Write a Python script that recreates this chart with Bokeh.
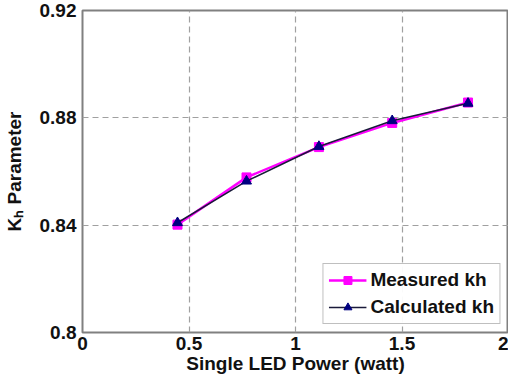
from bokeh.plotting import figure
from bokeh.models import FixedTicker, CustomJSTickFormatter, Legend, LegendItem, Range1d
from bokeh.embed import file_html
from bokeh.resources import INLINE

power = [0.446, 0.77, 1.11, 1.454, 1.81]
measured_kh = [0.8402, 0.8578, 0.8691, 0.8781, 0.8857]
calculated_kh = [0.8409, 0.8564, 0.8693, 0.8789, 0.8854]
x_ticks = [0, 0.5, 1, 1.5, 2]
y_ticks = [0.8, 0.84, 0.88, 0.92]

FONT = "Liberation Sans"

p = figure(width=508, height=376, output_backend="svg", toolbar_location=None,
           x_range=Range1d(0, 2), y_range=Range1d(0.8, 0.92),
           min_border_left=78, min_border_right=0, min_border_top=10, min_border_bottom=40)
p.background_fill_color = "white"
p.border_fill_color = "white"
p.outline_line_color = "#808080"
p.outline_line_width = 2

for ax in (p.xaxis[0], p.yaxis[0]):
    ax.axis_line_color = None
    ax.major_tick_line_color = None
    ax.minor_tick_line_color = None
    ax.major_tick_in = 0
    ax.major_tick_out = 0
    ax.minor_tick_in = 0
    ax.minor_tick_out = 0
    ax.major_label_text_font = FONT
    ax.major_label_text_font_style = "bold"
    ax.major_label_text_font_size = "19px"
    ax.major_label_text_color = "#111111"
    ax.axis_label_text_font = FONT
    ax.axis_label_text_font_style = "bold"
    ax.axis_label_text_font_size = "19px"
    ax.axis_label_text_color = "#111111"

fmt = CustomJSTickFormatter(code="return tick.toFixed(2).replace(/0+$/,'').replace(/\\.$/,'');")
p.xaxis[0].ticker = FixedTicker(ticks=x_ticks)
p.yaxis[0].ticker = FixedTicker(ticks=y_ticks)
p.xaxis[0].formatter = fmt
p.yaxis[0].formatter = fmt
p.xaxis[0].axis_label = "Single LED Power (watt)"
p.yaxis[0].axis_label = "K\u2095 Parameter"
p.xaxis[0].major_label_standoff = 4
p.yaxis[0].major_label_standoff = 6
p.xaxis[0].axis_label_standoff = 0
p.yaxis[0].axis_label_standoff = 12

p.xgrid.grid_line_color = "#a0a0a0"
p.ygrid.grid_line_color = "#a0a0a0"
p.xgrid.grid_line_dash = "6 4"
p.ygrid.grid_line_dash = "6 4"
p.xgrid.grid_line_width = 1.2
p.ygrid.grid_line_width = 1.2

ml = p.line(power, measured_kh, line_color="#ff00ff", line_width=2.5)
ms = p.scatter(power, measured_kh, marker="square", size=9, fill_color="#ff00ff", line_color="#ff00ff")
cl = p.line(power, calculated_kh, line_color="#1a1a3a", line_width=1.5)
cs = p.scatter(power, calculated_kh, marker="triangle", size=10, fill_color="#000080", line_color="#000080")

legend = Legend(items=[LegendItem(label="Measured kh", renderers=[ml, ms]),
                       LegendItem(label="Calculated kh", renderers=[cl, cs])],
                location="bottom_right")
legend.label_text_font = FONT
legend.label_text_font_style = "bold"
legend.label_text_font_size = "19px"
legend.label_text_color = "#111111"
legend.border_line_color = "#808080"
legend.border_line_width = 1
legend.glyph_width = 38
legend.glyph_height = 20
legend.label_height = 20
legend.margin = 8
legend.padding = 5
legend.spacing = 5
legend.label_standoff = 4
p.add_layout(legend, "center")

open("out.html", "w").write(file_html(p, INLINE))
